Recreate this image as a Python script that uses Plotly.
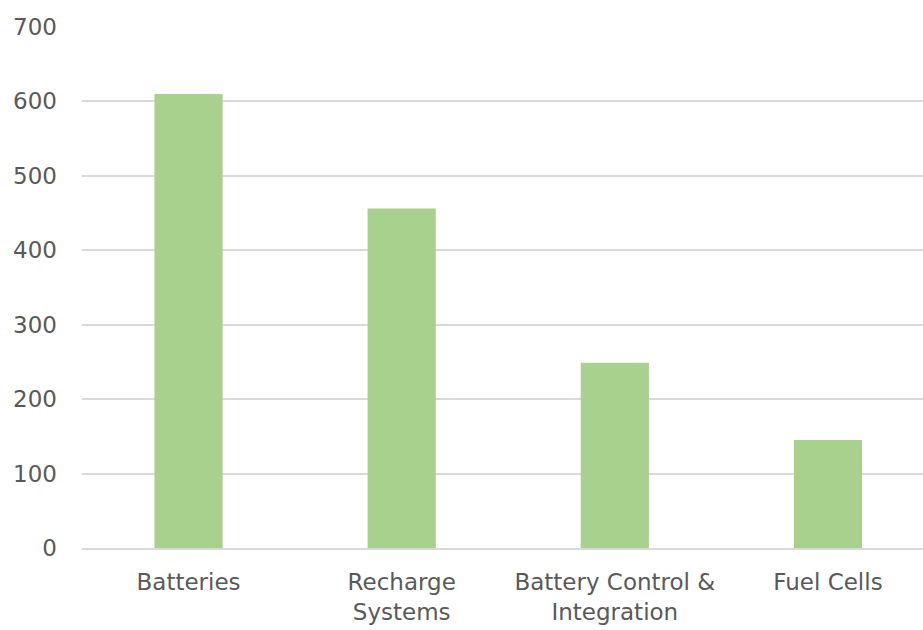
import plotly.graph_objects as go

categories = ["Batteries", "Recharge<br>Systems", "Battery Control &<br>Integration", "Fuel Cells"]
values = [610, 456, 249, 145]

bar_color = "#a9d18e"
text_color = "#595959"
grid_color = "#d9d9d9"

fig = go.Figure(
    go.Bar(
        x=categories,
        y=values,
        marker=dict(color=bar_color, line=dict(width=0)),
        hoverinfo="x+y",
    )
)

fig.update_layout(
    width=923,
    height=630,
    margin=dict(l=82, r=0, t=27, b=82),
    paper_bgcolor="white",
    plot_bgcolor="white",
    bargap=0.68,
    showlegend=False,
    font=dict(family="DejaVu Sans, sans-serif", size=23, color=text_color),
)

fig.update_xaxes(
    range=[-0.5, 3.446],
    showgrid=False,
    showline=True,
    linecolor=grid_color,
    linewidth=2,
    ticks="",
    ticklabelstandoff=12,
    tickfont=dict(size=23, color=text_color),
    zeroline=False,
)

fig.update_yaxes(
    range=[0, 700],
    dtick=100,
    showgrid=True,
    gridcolor=grid_color,
    gridwidth=1.5,
    zeroline=False,
    showline=False,
    ticks="",
    ticklabelstandoff=24,
    tickfont=dict(size=23, color=text_color),
)

fig.write_html("out.html")
